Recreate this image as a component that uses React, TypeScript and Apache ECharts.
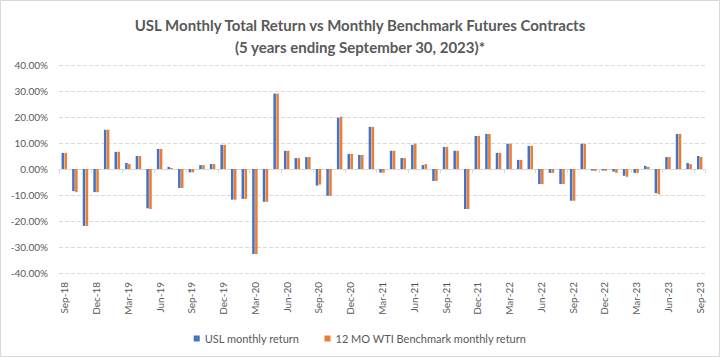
import React, { useEffect, useRef } from "react";
import * as echarts from "echarts";

const categories = [
  "Sep-18", "Oct-18", "Nov-18", "Dec-18", "Jan-19", "Feb-19", "Mar-19", "Apr-19", "May-19", "Jun-19", "Jul-19", "Aug-19",
  "Sep-19", "Oct-19", "Nov-19", "Dec-19", "Jan-20", "Feb-20", "Mar-20", "Apr-20", "May-20", "Jun-20", "Jul-20", "Aug-20",
  "Sep-20", "Oct-20", "Nov-20", "Dec-20", "Jan-21", "Feb-21", "Mar-21", "Apr-21", "May-21", "Jun-21", "Jul-21", "Aug-21",
  "Sep-21", "Oct-21", "Nov-21", "Dec-21", "Jan-22", "Feb-22", "Mar-22", "Apr-22", "May-22", "Jun-22", "Jul-22", "Aug-22",
  "Sep-22", "Oct-22", "Nov-22", "Dec-22", "Jan-23", "Feb-23", "Mar-23", "Apr-23", "May-23", "Jun-23", "Jul-23", "Aug-23",
  "Sep-23",
];

const uslReturn = [
  6.2, -8.5, -21.9, -8.9, 15.1, 6.6, 2.3, 5.0, -15.1, 7.7, 0.8, -7.3,
  -1.3, 1.5, 1.9, 9.3, -11.8, -11.5, -32.7, -12.6, 29.0, 7.0, 4.2, 4.6,
  -6.4, -10.3, 19.7, 5.8, 5.4, 16.2, -1.4, 7.0, 4.2, 9.3, 1.5, -4.6,
  8.5, 7.0, -15.4, 12.7, 13.5, 6.2, 9.7, 3.5, 8.9, -5.8, -1.5, -5.8,
  -12.2, 9.7, -0.6, -0.6, -1.0, -2.6, -1.5, 1.2, -9.3, 4.6, 13.5, 2.3,
  5.0,
];

const wtiReturn = [
  6.2, -8.9, -21.9, -8.9, 15.1, 6.6, 1.9, 5.0, -15.4, 7.7, 0.4, -7.3,
  -1.3, 1.5, 1.9, 9.3, -11.8, -11.5, -32.7, -12.6, 29.0, 7.0, 4.2, 4.6,
  -6.0, -10.3, 20.1, 5.8, 5.4, 16.2, -1.4, 7.0, 4.2, 9.7, 1.9, -4.6,
  8.5, 7.0, -15.4, 12.7, 13.5, 6.2, 9.7, 3.5, 8.9, -5.8, -1.5, -5.8,
  -12.2, 9.7, -0.8, -0.7, -1.5, -3.0, -1.5, 0.8, -9.7, 4.6, 13.5, 1.9,
  4.6,
];

const seriesNames = ["USL monthly return", "12 MO WTI Benchmark monthly return"];
const titleText = "USL Monthly Total Return vs Monthly Benchmark Futures Contracts\n(5 years ending September 30, 2023)*";

const FONT = "Lato";
const GREY = "#595959";

export default function App() {
  const ref = useRef<HTMLDivElement>(null);

  useEffect(() => {
    document.body.style.margin = "0";
    if (!ref.current) return;
    const chart = echarts.init(ref.current, undefined, { renderer: "svg" });
    chart.setOption({
      animation: false,
      backgroundColor: "#ffffff",
      textStyle: { fontFamily: FONT },
      graphic: [
        {
          type: "rect",
          shape: { x: 0.5, y: 0.5, width: 719, height: 356 },
          style: { fill: "none", stroke: "#d9d9d9", lineWidth: 1 },
          silent: true,
        },
      ],
      title: {
        text: titleText,
        left: "center",
        top: 9,
        textStyle: {
          fontFamily: FONT,
          fontSize: 15,
          fontWeight: "bold",
          color: GREY,
          lineHeight: 22,
        },
      },
      legend: {
        data: seriesNames,
        left: "center",
        top: 328,
        itemWidth: 6,
        itemHeight: 6,
        itemGap: 25,
        icon: "rect",
        textStyle: { fontFamily: FONT, fontSize: 11, color: GREY },
      },
      grid: { left: 59, right: 15, top: 65, bottom: 84, containLabel: false },
      xAxis: [
        {
          type: "category",
          data: categories,
          position: "bottom",
          axisLine: { show: false, onZero: false },
          axisTick: { show: false },
          axisLabel: {
            interval: 2,
            rotate: 90,
            margin: 9,
            fontFamily: FONT,
            fontSize: 10,
            color: GREY,
          },
          splitLine: { show: false },
        },
        {
          type: "category",
          data: categories,
          position: "bottom",
          axisLine: { show: true, onZero: true, onZeroAxisIndex: 0, lineStyle: { color: "#d9d9d9", width: 1 } },
          axisTick: { show: true, interval: 2, length: 4, alignWithLabel: false, lineStyle: { color: "#d9d9d9" } },
          axisLabel: { show: false },
          splitLine: { show: false },
        },
      ],
      yAxis: {
        type: "value",
        min: -40,
        max: 40,
        interval: 10,
        axisLine: { show: false },
        axisTick: { show: false },
        axisLabel: {
          formatter: (v: number) => v.toFixed(2) + "%",
          fontFamily: FONT,
          fontSize: 10,
          color: GREY,
          margin: 11,
        },
        splitLine: { lineStyle: { color: "#d9d9d9", type: "dashed", width: 1 } },
      },
      series: [
        {
          name: seriesNames[0],
          type: "bar",
          xAxisIndex: 0,
          data: uslReturn,
          barWidth: "24%",
          barGap: "15%",
          itemStyle: { color: "#4472C4" },
        },
        {
          name: seriesNames[1],
          type: "bar",
          xAxisIndex: 0,
          data: wtiReturn,
          barWidth: "24%",
          barGap: "15%",
          itemStyle: { color: "#ED7D31" },
        },
      ],
    });
    return () => chart.dispose();
  }, []);

  return <div ref={ref} style={{ width: 720, height: 357 }} />;
}
